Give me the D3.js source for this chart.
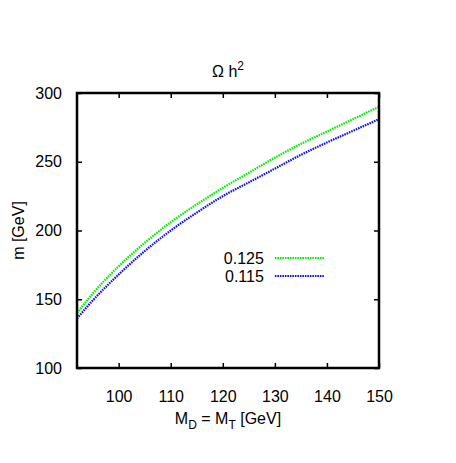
<!DOCTYPE html>
<html>
<head>
<meta charset="utf-8">
<script src="https://cdn.jsdelivr.net/npm/d3@7"></script>
<style>
  body { margin: 0; background: #fff; }
  text { font-family: "Liberation Sans", Arial, sans-serif; }
</style>
</head>
<body>
<svg id="chart"></svg>
<script>
// masses M_D = M_T (GeV)
const masses = [92, 95, 100, 105, 110, 115, 120, 125, 130, 135, 140, 145, 150];
// m (GeV) for each relic density contour
const omega125 = [140, 154, 174, 191, 206, 219, 231, 242, 253, 263, 272, 281, 290];
const omega115 = [136, 149, 168, 185, 200, 213, 225, 235, 245, 255, 264, 272.5, 281];
const seriesNames = ["0.125", "0.115"];
const xTicks = [100, 110, 120, 130, 140, 150];
const yTicks = [100, 150, 200, 250, 300];

const width = 456, height = 463;
const margin = { top: 93, right: 77, bottom: 95, left: 77 };
const innerW = width - margin.left - margin.right;
const innerH = height - margin.top - margin.bottom;
const fs = 16;

const svg = d3.select("#chart").attr("width", width).attr("height", height);
const chart = svg.append("g").attr("transform", `translate(${margin.left},${margin.top})`);

const xscale = d3.scaleLinear().domain([92, 150]).range([0, innerW]);
const yscale = d3.scaleLinear().domain([100, 300]).range([innerH, 0]);

// ticks on all four sides, pointing inward
const tickLen = 5;
chart.append("g").attr("transform", `translate(0,${innerH})`)
  .call(d3.axisBottom(xscale).tickValues(xTicks).tickSizeInner(-tickLen).tickSizeOuter(0).tickPadding(23));
chart.append("g")
  .call(d3.axisTop(xscale).tickValues(xTicks).tickSizeInner(-tickLen).tickSizeOuter(0).tickFormat(""));
chart.append("g")
  .call(d3.axisLeft(yscale).tickValues(yTicks).tickSizeInner(-tickLen).tickSizeOuter(0).tickPadding(15));
chart.append("g").attr("transform", `translate(${innerW},0)`)
  .call(d3.axisRight(yscale).tickValues(yTicks).tickSizeInner(-tickLen).tickSizeOuter(0).tickFormat(""));

chart.selectAll(".domain").remove();
chart.selectAll(".tick line").attr("stroke", "#000").attr("stroke-width", 1.5);
chart.selectAll(".tick text").attr("font-size", fs).attr("fill", "#000")
  .attr("font-family", "'Liberation Sans', Arial, sans-serif");

const series = [
  { name: seriesNames[0], values: omega125, color: "#00f000" },
  { name: seriesNames[1], values: omega115, color: "#1010ff" }
];

const line = d3.line()
  .x((d, i) => xscale(masses[i]))
  .y(d => yscale(d))
  .curve(d3.curveMonotoneX);

chart.selectAll(".curve").data(series).join("path")
  .attr("class", "curve")
  .attr("d", d => line(d.values))
  .attr("fill", "none")
  .attr("stroke", d => d.color)
  .attr("stroke-width", 2.2)
  .attr("stroke-dasharray", "1.6,0.9");

// frame
chart.append("rect")
  .attr("width", innerW).attr("height", innerH)
  .attr("fill", "none").attr("stroke", "#000").attr("stroke-width", 2.5);

// legend
const legend = chart.append("g").attr("transform", `translate(${xscale(130)},${yscale(180)})`);
series.forEach((s, i) => {
  const g = legend.append("g").attr("transform", `translate(0,${i * 18})`);
  g.append("text").attr("x", -11).attr("y", 6).attr("text-anchor", "end")
    .attr("font-size", fs).text(s.name);
  g.append("line").attr("x1", 0).attr("x2", 49).attr("y1", 0).attr("y2", 0)
    .attr("stroke", s.color).attr("stroke-width", 2.2).attr("stroke-dasharray", "1.6,0.9");
});

// title
const title = svg.append("text").attr("x", margin.left + innerW / 2).attr("y", 77)
  .attr("text-anchor", "middle").attr("font-size", fs);
title.append("tspan").text("Ω h");
title.append("tspan").attr("dy", -7).attr("font-size", 12).text("2");

// axis labels
const xlab = svg.append("text").attr("x", margin.left + innerW / 2).attr("y", 424)
  .attr("text-anchor", "middle").attr("font-size", fs);
xlab.append("tspan").text("M");
xlab.append("tspan").attr("dy", 5).attr("font-size", 12).text("D");
xlab.append("tspan").attr("dy", -5).text(" = M");
xlab.append("tspan").attr("dy", 5).attr("font-size", 12).text("T");
xlab.append("tspan").attr("dy", -5).text(" [GeV]");

svg.append("text")
  .attr("transform", `translate(24,${margin.top + innerH / 2}) rotate(-90)`)
  .attr("text-anchor", "middle").attr("font-size", fs).text("m [GeV]");
</script>
</body>
</html>
